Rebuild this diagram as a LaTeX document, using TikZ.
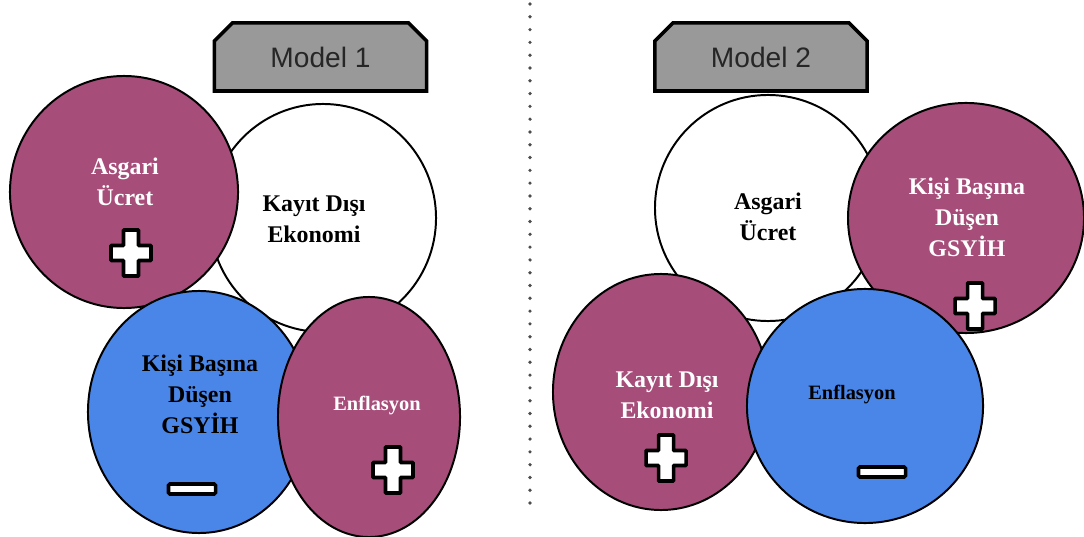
\documentclass[tikz,border=0pt]{standalone}
\usepackage{fontspec}
\setmainfont{Liberation Serif}
\newfontfamily\tagfont{Liberation Sans}
\usepackage{tikz}
\usetikzlibrary{shapes,positioning}
\usetikzlibrary{calc}
\definecolor{plum}{HTML}{A64D79}
\definecolor{sky}{HTML}{4A86E8}
\definecolor{tagfill}{HTML}{999999}
\tikzstyle{factor} = [
  ellipse, draw, line width = 1.4pt, inner sep = 0pt
]
\tikzstyle{caption} = [
  align = center, inner sep = 0pt,
  font = \bfseries\fontsize{17}{22}\selectfont
]
\tikzstyle{smallcap} = [
  caption, font = \bfseries\fontsize{14.5}{18}\selectfont
]
\tikzstyle{tag} = [
  chamfered rectangle, chamfered rectangle corners = {north west, north east},
  chamfered rectangle xsep = 0.25cm, chamfered rectangle ysep = 0.2cm,
  draw, fill = tagfill, line width = 2.5pt, minimum width = 5.3cm,
  minimum height = 1.7cm, font = \tagfont\fontsize{20}{24}\selectfont,
  text = black!85
]
\tikzstyle{minussign} = [
  rectangle, draw, fill = white, line width = 2.5pt, rounded corners = 1pt,
  minimum width = 1.175cm, minimum height = 0.25cm, inner sep = 0pt
]
\tikzset{
  plussign/.pic = {
    \draw[fill = white, line width = 2.5pt, rounded corners = 0.5pt]
      (-7.5,23) -- (7.5,23) -- (7.5,7.5) -- (20,7.5) -- (20,-7.5) -- (7.5,-7.5)
      -- (7.5,-23) -- (-7.5,-23) -- (-7.5,-7.5) -- (-20,-7.5) -- (-20,7.5)
      -- (-7.5,7.5) -- cycle;
  }
}

\begin{document}
\begin{tikzpicture}[x=0.025cm, y=-0.025cm]
    \useasboundingbox (0,0) rectangle (1084,537);

    % Model 1
    \node[tag] (tag1) at (320.5,57) {Model 1};
    \node[factor, fill=white, minimum width=5.65cm, minimum height=5.7cm] (kayit1) at (323,218) {};
    \node[factor, fill=plum, minimum width=5.7cm, minimum height=5.8cm] (asgari1) at (124,192) {};
    \node[factor, fill=sky, minimum width=5.55cm, minimum height=6.05cm] (gsyih1) at (199,412) {};
    \node[factor, fill=plum, minimum width=4.55cm, minimum height=6cm] (enf1) at (369,417) {};

    \node[caption, white] (asgari1t) at (125,182) {Asgari\\Ücret};
    \node[caption] (kayit1t) at (314,219.5) {Kayıt Dışı\\Ekonomi};
    \node[caption] (gsyih1t) at (200,394.5) {Kişi Başına\\Düşen\\GSYİH};
    \node[smallcap, white] (enf1t) at (377,406) {Enflasyon};

    \pic (plus1) at (131,253) {plussign};
    \node[minussign] (minus1) at (192,489) {};
    \pic (plus2) at (393,470) {plussign};

    % separator
    \coordinate (septop) at (530,4);
    \coordinate (sepbot) at (530,512);
    \draw[black!70, line width=2.6pt, line cap=round, dash pattern=on 0pt off 9.1pt] (septop) -- (sepbot);

    % Model 2
    \node[tag] (tag2) at (761,57) {Model 2};
    \node[factor, fill=white, minimum width=5.65cm, minimum height=5.65cm] (asgari2) at (768,208) {};
    \node[factor, fill=plum, minimum width=5.9cm, minimum height=5.75cm] (gsyih2) at (966,218) {};
    \node[factor, fill=plum, minimum width=5.4cm, minimum height=5.9cm] (kayit2) at (661,392) {};
    \node[factor, fill=sky, minimum width=5.9cm, minimum height=5.85cm] (enf2) at (865,406) {};

    \node[caption] (asgari2t) at (768,216.5) {Asgari\\Ücret};
    \node[caption, white] (gsyih2t) at (967,217.5) {Kişi Başına\\Düşen\\GSYİH};
    \node[caption, white] (kayit2t) at (667,395.5) {Kayıt Dışı\\Ekonomi};
    \node[smallcap] (enf2t) at (852,395) {Enflasyon};

    \pic (plus3) at (975,306) {plussign};
    \pic (plus4) at (666,458) {plussign};
    \node[minussign] (minus2) at (882,472) {};
\end{tikzpicture}
\end{document}
